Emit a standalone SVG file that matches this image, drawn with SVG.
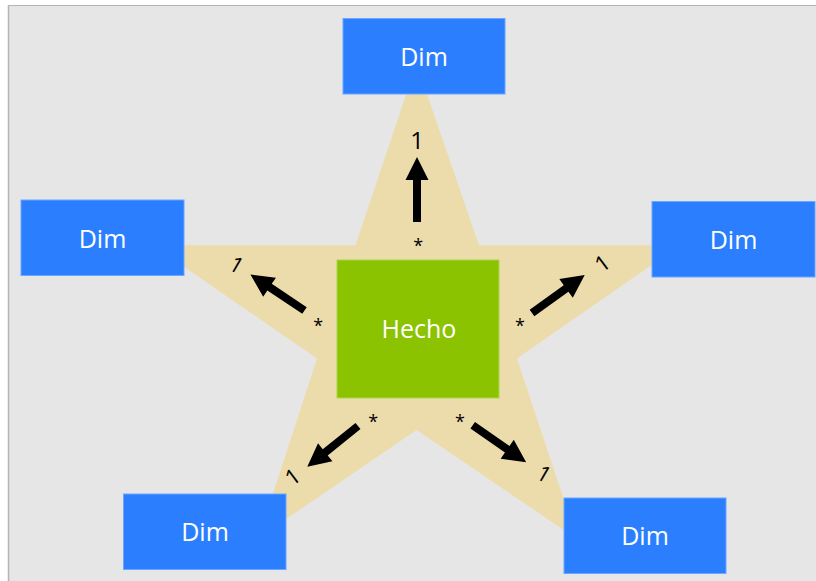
<svg xmlns="http://www.w3.org/2000/svg" xmlns:xlink="http://www.w3.org/1999/xlink" width="816" height="581" viewBox="0 0 816 581">
<style>
.dim{fill:#2b7fff;stroke:#6aa5ff;stroke-width:1}
.fact{fill:#8cc300;stroke:#a8d64a;stroke-width:1}
.lbl{font-family:"Open Sans","Noto Sans","DejaVu Sans",sans-serif;font-size:25px;fill:#ffffff;text-anchor:middle}
.m{font-family:"Open Sans","Noto Sans","DejaVu Sans",sans-serif;fill:#000000;text-anchor:middle}
.one{font-size:22px}
.st{font-size:18px}
</style>
<defs>
<path id="arr" d="M0,-4 L42,-4 L42,-11.5 L65,0 L42,11.5 L42,4 L0,4 Z" fill="#000000"/>
</defs>
<rect x="0" y="0" width="816" height="581" fill="#ffffff"/>
<rect x="8" y="5" width="808" height="576" fill="#e6e6e6"/>
<line x1="8" y1="5.5" x2="816" y2="5.5" stroke="#b4b4b4" stroke-width="1"/>
<line x1="8.5" y1="5" x2="8.5" y2="581" stroke="#b4b4b4" stroke-width="1.5"/>
<polygon id="star" points="416.5,63.6 479,245.3 680,245.3 517,358.6 577,539 416.5,430 258.5,538 317,358.6 153,245.3 355.5,245.3" fill="#ecdcac"/>
<g id="connectors">
<use xlink:href="#arr" transform="translate(417,222) rotate(-90)"/>
<use xlink:href="#arr" transform="translate(304.5,310.5) rotate(-146.3)"/>
<use xlink:href="#arr" transform="translate(532,313) rotate(-35.8)"/>
<use xlink:href="#arr" transform="translate(358,426) rotate(141.3)"/>
<use xlink:href="#arr" transform="translate(472.7,425.3) rotate(34.7)"/>
<text class="m" x="417" y="149.3" font-size="24">1</text>
<text class="m one" x="236.7" y="272.8" transform="rotate(30,236.7,265)">1</text>
<text class="m one" x="602.3" y="271.1" transform="rotate(-37,602.3,263.3)">1</text>
<text class="m one" x="292.7" y="484.5" transform="rotate(-37,292.7,476.7)">1</text>
<text class="m one" x="544" y="481.8" transform="rotate(30,544,474)">1</text>
<text class="m st" x="418.3" y="252">*</text>
<text class="m st" x="318.3" y="331.7">*</text>
<text class="m st" x="520" y="332.3">*</text>
<text class="m st" x="373.3" y="427.7">*</text>
<text class="m st" x="460" y="427.7">*</text>
</g>
<g id="fact">
<rect class="fact" x="337" y="260" width="162" height="138"/>
<text class="lbl" x="419" y="338.3">Hecho</text>
</g>
<g id="dim-top">
<rect class="dim" x="343" y="18.5" width="162" height="75.5"/>
<text class="lbl" x="424" y="66">Dim</text>
</g>
<g id="dim-left">
<rect class="dim" x="21" y="200" width="163" height="75.5"/>
<text class="lbl" x="102.5" y="247.5">Dim</text>
</g>
<g id="dim-right">
<rect class="dim" x="652" y="201.5" width="163" height="75.5"/>
<text class="lbl" x="733.5" y="249.3">Dim</text>
</g>
<g id="dim-bottom-left">
<rect class="dim" x="123.5" y="494" width="162.5" height="75.5"/>
<text class="lbl" x="205" y="541.3">Dim</text>
</g>
<g id="dim-bottom-right">
<rect class="dim" x="564" y="498" width="162" height="75.5"/>
<text class="lbl" x="645" y="545.3">Dim</text>
</g>
</svg>
